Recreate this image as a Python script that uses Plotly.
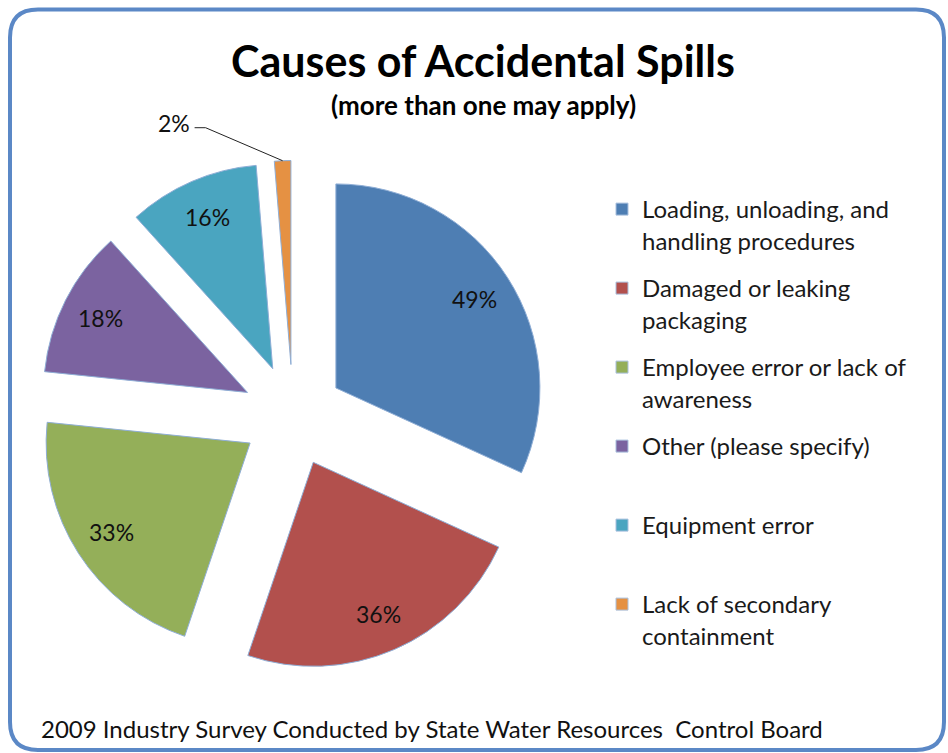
import math
import plotly.graph_objects as go

W, H = 948, 753

# Survey results: share of respondents naming each cause (more than one may apply)
categories = [
    "Loading, unloading, and handling procedures",
    "Damaged or leaking packaging",
    "Employee error or lack of awareness",
    "Other (please specify)",
    "Equipment error",
    "Lack of secondary containment",
]
values = [49, 36, 33, 18, 16, 2]
legend_labels = [
    "Loading, unloading, and<br>handling procedures",
    "Damaged or leaking<br>packaging",
    "Employee error or lack of<br>awareness",
    "Other (please specify)<br>\u00a0",
    "Equipment error<br>\u00a0",
    "Lack of secondary<br>containment",
]
colors = ["#4E7EB3", "#B2504D", "#94AF59", "#7B63A0", "#4AA5C0", "#E59143"]

FONT = "Lato"
PULL = 0.25
LABEL_R = 0.81  # value labels sit at this fraction of the radius


def px(x, y):
    """Pixel position -> paper coordinates."""
    return x / W, 1 - y / H


# pie domain (paper)
dom_x = [38 / W, 548 / W]
dom_y = [1 - 670.5 / H, 1 - 160.5 / H]

fig = go.Figure()
fig.add_trace(go.Pie(
    labels=categories,
    values=values,
    sort=False,
    direction="clockwise",
    rotation=0,
    pull=[PULL] * len(values),
    marker=dict(colors=colors, line=dict(color="#8FAED6", width=1)),
    textinfo="none",
    domain=dict(x=dom_x, y=dom_y),
    showlegend=False,
    hoverinfo="label+value",
))

# legend entries, one group each so the spacing can be set
for name, c in zip(legend_labels, colors):
    fig.add_trace(go.Scatter(
        x=[None], y=[None], mode="markers", name=name, legendgroup=name,
        marker=dict(symbol="square", size=12, color=c,
                    line=dict(color="#A9C0DE", width=1)),
        hoverinfo="skip",
    ))

# pie geometry in pixels, same as the pie trace uses
total = sum(values)
cx_px = (dom_x[0] + dom_x[1]) / 2 * W
cy_px = (1 - (dom_y[0] + dom_y[1]) / 2) * H
radius = min((dom_x[1] - dom_x[0]) * W, (dom_y[1] - dom_y[0]) * H) / 2 / (1 + PULL)

annotations = []
before = 0
mids = []
for v in values:
    mids.append((before + v / 2) / total * 2 * math.pi)
    before += v

# value labels for the larger slices
for v, th in zip(values[:-1], mids[:-1]):
    d = radius * (PULL + LABEL_R)
    lx = cx_px + d * math.sin(th)
    ly = cy_px - d * math.cos(th)
    annotations.append(dict(
        text=f"{v}%", x=lx / W, y=1 - ly / H, xref="paper", yref="paper",
        showarrow=False, xanchor="center", yanchor="middle",
        font=dict(family=FONT, size=23, color="#111111")))

# leader line and label for the smallest slice
th = mids[-1]
tip_x = cx_px + (1 + PULL) * radius * math.sin(th)
tip_y = cy_px - (1 + PULL) * radius * math.cos(th)
elbow_x, elbow_y = tip_x - 77, tip_y - 33
stub_x = elbow_x - 11
pts = [px(stub_x, elbow_y), px(elbow_x, elbow_y), px(tip_x, tip_y)]
leader = "M {} {} L {} {} L {} {}".format(*[c for p in pts for c in p])
annotations.append(dict(
    text=f"{values[-1]}%", x=(stub_x - 3) / W, y=1 - (elbow_y - 5) / H,
    xref="paper", yref="paper", showarrow=False, xanchor="right", yanchor="middle",
    font=dict(family=FONT, size=23, color="#111111")))

# rounded frame
x0, y0, x1, y1, rr = 10, 9.5, 944, 750, 28
frame_pts = [
    ("M", [(x0 + rr, y0)]), ("L", [(x1 - rr, y0)]), ("Q", [(x1, y0), (x1, y0 + rr)]),
    ("L", [(x1, y1 - rr)]), ("Q", [(x1, y1), (x1 - rr, y1)]),
    ("L", [(x0 + rr, y1)]), ("Q", [(x0, y1), (x0, y1 - rr)]),
    ("L", [(x0, y0 + rr)]), ("Q", [(x0, y0), (x0 + rr, y0)]),
]
frame = " ".join(
    cmd + " " + " ".join("{:.5f} {:.5f}".format(*px(a, b)) for a, b in pp)
    for cmd, pp in frame_pts
) + " Z"

annotations += [
    dict(text="Causes of Accidental Spills", x=483 / W, y=1 - 60 / H,
         xref="paper", yref="paper", showarrow=False, xanchor="center", yanchor="middle",
         font=dict(family=FONT, size=43, color="black", weight="bold")),
    dict(text="(more than one may apply)", x=483 / W, y=1 - 105 / H,
         xref="paper", yref="paper", showarrow=False, xanchor="center", yanchor="middle",
         font=dict(family=FONT, size=26, color="black", weight="bold")),
    dict(text="2009 Industry Survey Conducted by State Water Resources\u00a0 Control Board",
         x=39 / W, y=1 - 728 / H, xref="paper", yref="paper", showarrow=False,
         xanchor="left", yanchor="middle",
         font=dict(family=FONT, size=24, color="#111111")),
]

fig.update_layout(
    width=W, height=H,
    margin=dict(l=0, r=0, t=0, b=0),
    paper_bgcolor="white", plot_bgcolor="white",
    xaxis=dict(visible=False), yaxis=dict(visible=False),
    showlegend=True,
    legend=dict(
        x=602 / W, y=1 - 187 / H, xanchor="left", yanchor="top",
        font=dict(family=FONT, size=24, color="#1a1a1a"),
        tracegroupgap=13.6, valign="top", bgcolor="rgba(0,0,0,0)",
        itemclick=False, itemdoubleclick=False,
    ),
    shapes=[
        dict(type="path", path=frame, xref="paper", yref="paper",
             line=dict(color="#5B88C6", width=4), layer="above"),
        dict(type="path", path=leader, xref="paper", yref="paper",
             line=dict(color="#222222", width=1)),
    ],
    annotations=annotations,
)

fig.write_html("out.html")
